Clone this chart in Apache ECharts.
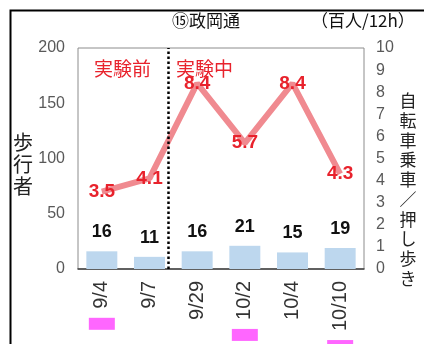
<!DOCTYPE html>
<html><head><meta charset="utf-8">
<script src="https://cdn.jsdelivr.net/npm/echarts@6/dist/echarts.min.js"></script>
<style>html,body{margin:0;padding:0;background:#fff}#c{width:424px;height:344px}</style>
</head><body><div id="c"></div>
<script>
const categories = ['9/4', '9/7', '9/29', '10/2', '10/4', '10/10'];
const pedestrians = [16, 11, 16, 21, 15, 19];          // 歩行者 (left axis)
const bicycles = [3.5, 4.1, 8.4, 5.7, 8.4, 4.3];        // 自転車乗車／押し歩き (right axis)
const rainFlags = [1, 0, 0, 1, 0, 1];                   // pink markers under labels
const dividerPos = 1.9;                                  // 実験前 / 実験中 boundary
const leftTicks = [0, 50, 100, 150, 200];
const rightTicks = [0, 1, 2, 3, 4, 5, 6, 7, 8, 9, 10];
const leftName = '歩行者';
const rightName = '自転車乗車／押し歩き';

const numFont = '"Liberation Sans", Arial, sans-serif';
const jpFont = '"Noto Sans CJK JP", sans-serif';
const red = '#e8222c';

const chart = echarts.init(document.getElementById('c'));
chart.setOption({
  animation: false,
  grid: { left: 78, right: 60, top: 48, bottom: 75, show: true, borderColor: '#8c8c8c', borderWidth: 1,
    outerBoundsMode: 'none', containLabel: false },
  graphic: [
    { type: 'rect', left: 8, top: 8, shape: { width: 520, height: 520 }, style: { fill: 'none', stroke: '#000', lineWidth: 2 }, silent: true },
    { type: 'text', left: 172, top: 12, style: { text: '⑮政岡通', font: '17px ' + jpFont, fill: '#111' } },
    { type: 'text', left: 311, top: 12, style: { text: '（百人/12h）', font: '17px ' + jpFont, fill: '#111' } },
    { type: 'text', left: 94, top: 59, style: { text: '実験前', font: '19px ' + jpFont, fill: red } },
    { type: 'text', left: 176, top: 59, style: { text: '実験中', font: '19px ' + jpFont, fill: red } },
    { type: 'text', x: 23, y: 131, style: { text: leftName.split('').join('\n'), font: '20px ' + jpFont, lineHeight: 22, fill: '#222', align: 'center' } },
    { type: 'text', x: 408, y: 91, style: { text: rightName.split('').join('\n'), font: '17px ' + jpFont, lineHeight: 19.7, fill: '#222', align: 'center' } }
  ],
  xAxis: [
    {
      type: 'category', data: categories,
      axisLine: { lineStyle: { color: '#404040', width: 1.5 } },
      axisTick: { length: 5, lineStyle: { color: '#404040' } },
      axisLabel: {
        rotate: 90, margin: 12, color: '#333', fontSize: 20, fontFamily: numFont,
        formatter: function (v, i) { return rainFlags[i] ? '{p| }{g| }' + v : v; },
        rich: { p: { width: 12, height: 26, backgroundColor: '#ff66ff' }, g: { width: 9 } }
      }
    },
    { type: 'value', min: 0, max: 6, show: false }
  ],
  yAxis: [
    {
      type: 'value', min: leftTicks[0], max: leftTicks[leftTicks.length - 1], interval: 50,
      axisLine: { show: false }, axisTick: { show: false }, splitLine: { show: false },
      axisLabel: { color: '#595959', fontSize: 16, fontFamily: numFont, margin: 13 }
    },
    {
      type: 'value', min: rightTicks[0], max: rightTicks[rightTicks.length - 1], interval: 1,
      axisLine: { show: false }, axisTick: { show: false }, splitLine: { show: false },
      axisLabel: { color: '#595959', fontSize: 16, fontFamily: numFont, margin: 12 }
    }
  ],
  series: [
    {
      type: 'bar', data: pedestrians, barWidth: '65%', yAxisIndex: 0,
      itemStyle: { color: '#bdd7ee' },
      label: { show: true, position: 'top', distance: 10, color: '#111', fontSize: 18, fontWeight: 'bold', fontFamily: numFont }
    },
    {
      type: 'line', data: bicycles, yAxisIndex: 1, symbol: 'circle', showSymbol: true, symbolSize: 1,
      itemStyle: { color: 'rgba(0,0,0,0)' },
      lineStyle: { color: '#f08a90', width: 6 },
      label: { show: true, position: 'inside', color: red, fontSize: 19, fontWeight: 'bold', fontFamily: numFont,
        formatter: p => p.value.toFixed(1) }
    },
    {
      type: 'line', xAxisIndex: 1, yAxisIndex: 0, data: [],
      markLine: { silent: true, symbol: 'none', label: { show: false },
        lineStyle: { type: 'dotted', color: '#000', width: 2.5 },
        data: [{ xAxis: dividerPos }] }
    }
  ]
});
</script></body></html>
